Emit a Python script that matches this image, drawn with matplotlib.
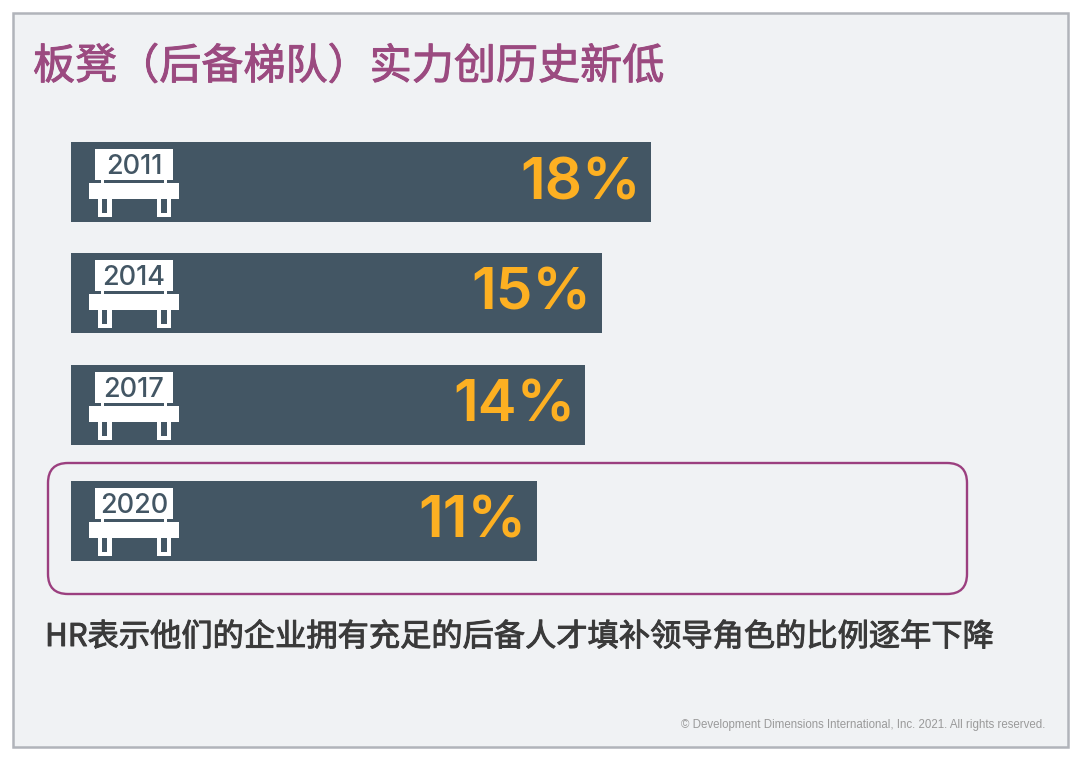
import matplotlib
matplotlib.use('Agg')
import matplotlib.pyplot as plt
import matplotlib.patheffects as pe
from matplotlib.patches import Rectangle, FancyBboxPatch

years = ['2011', '2014', '2017', '2020']
values = [18, 15, 14, 11]

title = '板凳（后备梯队）实力创历史新低'
subtitle = 'HR表示他们的企业拥有充足的后备人才填补领导角色的比例逐年下降'
footer = '© Development Dimensions International, Inc. 2021. All rights reserved.'

W, H = 1080, 761
row_tops = [142, 253, 365, 481]
bar_h = 80
# bars don't start at zero in the original, so the axis starts below it
x_start = -17.56
px_per_unit = 16.3

DARK = '#435664'
PURPLE = '#9B4A80'
ORANGE = '#FDB022'
CJK = ['Noto Sans CJK SC', 'DejaVu Sans']

fig = plt.figure(figsize=(W / 100, H / 100), dpi=100, facecolor='white')

# page in pixel coordinates
bg = fig.add_axes([0, 0, 1, 1])
bg.set_xlim(0, W)
bg.set_ylim(H, 0)
bg.axis('off')
bg.add_patch(Rectangle((12.5, 12.5), 1055, 734, fc='#F0F2F4', ec='#B1B4BA', lw=1.8))
bg.add_patch(FancyBboxPatch((68, 483), 879, 91, boxstyle='round,pad=20,rounding_size=20',
                            fc='none', ec='#9B3F7F', lw=1.7))
# regular weight with a thin stroke, bold is too heavy here
t1 = bg.text(33, 67, title, family=CJK, fontsize=30.3, color=PURPLE, va='center', ha='left')
t1.set_path_effects([pe.withStroke(linewidth=0.7, foreground=PURPLE)])
t2 = bg.text(45, 637, subtitle, family=CJK, fontsize=22.5, color='#3A3A3A', va='center', ha='left')
t2.set_path_effects([pe.withStroke(linewidth=0.7, foreground='#3A3A3A')])
bg.text(1045, 725, footer, family='Liberation Sans', fontsize=8.3, color='#9A9A9A', va='center', ha='right')

# bars, same pixel rows but x in percent
ax = fig.add_axes([71 / W, 0, 1 - 71 / W, 1])
ax.set_xlim(x_start, x_start + (W - 71) / px_per_unit)
ax.set_ylim(H, 0)
ax.axis('off')
ax.patch.set_alpha(0)
centers = [t + bar_h / 2 for t in row_tops]
ax.barh(centers, [v - x_start for v in values], left=x_start, height=bar_h, color=DARK)

for v, c in zip(values, centers):
    ax.annotate(f'{v}%', (v, c), xytext=(-10, 4), textcoords='offset pixels', ha='right', va='center_baseline',
                family='Inter', fontsize=42, weight='semibold', color=ORANGE)

# bench icons
for yr, top in zip(years, row_tops):
    ov = dict(fc='white', ec='none', zorder=5, transform=bg.transData)
    hole = dict(fc=DARK, ec='none', zorder=6, transform=bg.transData)
    parts = [
        Rectangle((95, top + 7), 78, 31, **ov),
        Rectangle((101, top + 38), 3, 4, **ov),
        Rectangle((164, top + 38), 3, 4, **ov),
        Rectangle((89, top + 41), 90, 16, **ov),
        Rectangle((98, top + 57), 14, 18, **ov),
        Rectangle((157, top + 57), 14, 18, **ov),
        Rectangle((102, top + 57), 5, 14, **hole),
        Rectangle((161, top + 57), 6, 14, **hole),
    ]
    for p in parts:
        ax.add_artist(p)
    ax.text(134, top + 25, yr, family='Inter', fontsize=19.5, weight='medium', color=DARK, ha='center', va='center',
            transform=bg.transData, zorder=7)

fig.savefig('out.png', dpi=100)
